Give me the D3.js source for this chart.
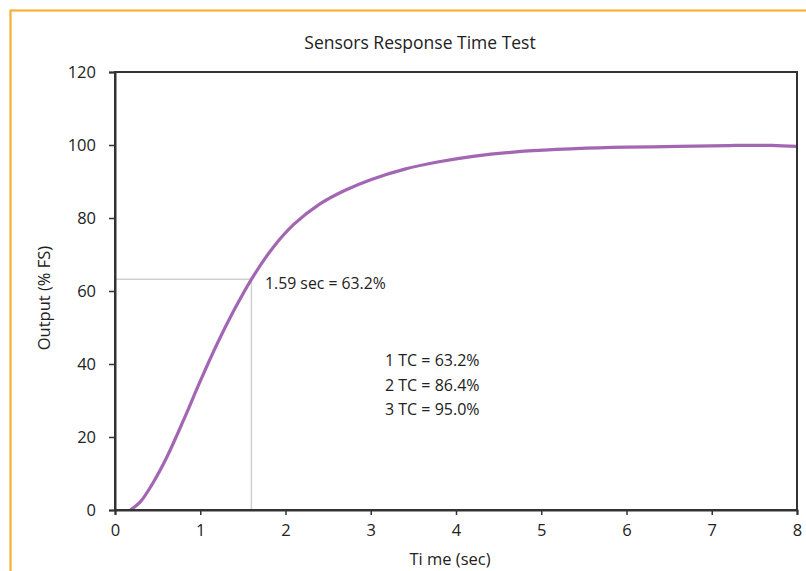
<!DOCTYPE html>
<html><head><meta charset="utf-8">
<script src="https://cdn.jsdelivr.net/npm/d3@7"></script>
<style>body{margin:0;background:#fff}svg{display:block}text{font-family:"Open Sans",sans-serif;fill:#222}</style>
</head><body><svg id="c" width="806" height="571"></svg>
<script>
const timeSec = [0.18,0.3,0.45,0.6,0.8,1.0,1.2,1.4,1.6,1.85,2.1,2.4,2.7,3.0,3.4,3.8,4.2,4.8,5.4,6.0,6.6,7.2,7.7,8.0];
const outputPct = [0,2.3,7.6,14.1,24.4,35.3,45.6,54.9,63.2,71.8,78.3,83.8,87.6,90.5,93.4,95.4,96.9,98.3,99.0,99.4,99.6,99.85,99.9,99.6];
const xTicks = [0,1,2,3,4,5,6,7,8];
const yTicks = [0,20,40,60,80,100,120];
const markTime = [1.6], markValue = [63.2];
const markLabel = "1.59 sec = 63.2%";
const tcLines = ["1 TC = 63.2%","2 TC = 86.4%","3 TC = 95.0%"];
const title = "Sensors Response Time Test", xLabel = "Ti me (sec)", yLabel = "Output (% FS)";

const svg = d3.select("#c");
const m = {l:115, t:72, r:797, b:510};
const x = d3.scaleLinear().domain([0,8]).range([m.l,m.r]);
const y = d3.scaleLinear().domain([0,120]).range([m.b,m.t]);

svg.append("rect").attr("x",10.5).attr("y",10.5).attr("width",820).attr("height",600)
  .attr("fill","none").attr("stroke","#FBB034").attr("stroke-width",2.2);

svg.append("line").attr("x1",x(0)).attr("x2",x(markTime[0])).attr("y1",y(markValue[0])).attr("y2",y(markValue[0]))
  .attr("stroke","#d0d0d0").attr("stroke-width",1.5);
svg.append("line").attr("x1",x(markTime[0])).attr("x2",x(markTime[0])).attr("y1",y(markValue[0])).attr("y2",y(0))
  .attr("stroke","#d0d0d0").attr("stroke-width",1.5);

const line = d3.line().x((d,i)=>x(timeSec[i])).y((d,i)=>y(outputPct[i])).curve(d3.curveCatmullRom.alpha(0.5));
svg.append("path").datum(outputPct).attr("d",line).attr("fill","none").attr("stroke","#A366B3").attr("stroke-width",3.2);

svg.append("rect").attr("x",m.l).attr("y",m.t).attr("width",m.r-m.l).attr("height",m.b-m.t)
  .attr("fill","none").attr("stroke","#333").attr("stroke-width",2);

const gx = svg.append("g").attr("transform",`translate(0,${m.b})`)
  .call(d3.axisBottom(x).tickValues(xTicks).tickFormat(d3.format("d")).tickSize(5).tickPadding(9));
const gy = svg.append("g").attr("transform",`translate(${m.l},0)`)
  .call(d3.axisLeft(y).tickValues(yTicks).tickFormat(d3.format("d")).tickSize(6).tickPadding(13));
[gx,gy].forEach(g=>{g.select(".domain").attr("stroke","#333").attr("stroke-width",2);
  g.selectAll(".tick line").attr("stroke","#333").attr("stroke-width",1.5);
  g.selectAll(".tick text").attr("font-size",16.5).attr("font-family","'Open Sans',sans-serif").attr("fill","#222");});

svg.append("text").attr("x",420).attr("y",49).attr("text-anchor","middle").attr("font-size",17.5).text(title);
svg.append("text").attr("x",450).attr("y",565).attr("text-anchor","middle").attr("font-size",16.5).text(xLabel);
svg.append("text").attr("transform","translate(50,298) rotate(-90)").attr("text-anchor","middle").attr("font-size",16.5).text(yLabel);
svg.append("text").attr("x",265).attr("y",289).attr("font-size",15.8).text(markLabel);
svg.selectAll(".tc").data(tcLines).enter().append("text").attr("x",385).attr("y",(d,i)=>366+i*24.5)
  .attr("font-size",16).text(d=>d);
</script></body></html>
